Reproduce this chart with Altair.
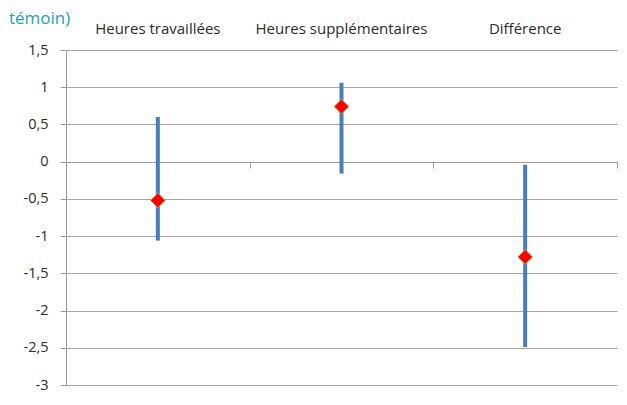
import altair as alt
import pandas as pd

cats = ["Heures travaillées", "Heures supplémentaires", "Différence"]
low = [-1.06, -0.16, -2.49]
high = [0.60, 1.06, -0.04]
point = [-0.52, 0.74, -1.28]
y_ticks = [1.5, 1, 0.5, 0, -0.5, -1, -1.5, -2, -2.5, -3]

df = pd.DataFrame({"cat": cats, "low": low, "high": high, "point": point})

FONT = "Open Sans"
TXT = "#2b2b2b"
GRID = "#a6a6a6"

xscale = alt.Scale(type="band", paddingInner=0, paddingOuter=0, domain=cats)
yscale = alt.Scale(domain=[-3, 1.5], nice=False, zero=False)

label_expr = "replace(toString(datum.value), '.', ',')"

yaxis = alt.Axis(title=None, values=y_ticks, labelExpr=label_expr,
                 grid=True, gridColor=GRID, gridWidth=1, labelOverlap=False,
                 tickCount=10,
                 domainColor="#9a9a9a", tickColor="#9a9a9a", tickSize=6,
                 labelPadding=12, labelFontSize=14.5, labelFont=FONT,
                 labelColor=TXT)

bars = alt.Chart(df).mark_rule(strokeWidth=4, color="#4a7ebb").encode(
    x=alt.X("cat:N", sort=cats, scale=xscale,
            axis=alt.Axis(orient="top", title=None, domain=False, ticks=False,
                          labelAngle=0, labelPadding=14, labelFontSize=15,
                          labelFont=FONT, labelColor=TXT, grid=False)),
    y=alt.Y("low:Q", scale=yscale, axis=yaxis),
    y2="high:Q",
)

pts = alt.Chart(df).mark_point(shape="diamond", filled=True, size=220,
                               fill="#ff0000", stroke="#9bbb59",
                               strokeWidth=1, opacity=1).encode(
    x=alt.X("cat:N", sort=cats, scale=xscale,
            axis=alt.Axis(orient="bottom", title=None, labels=False,
                          tickBand="extent", offset=-223, domainColor="#9a9a9a",
                          tickColor="#9a9a9a", tickSize=6, grid=False)),
    y=alt.Y("point:Q", scale=yscale, axis=yaxis),
)

note = alt.Chart(pd.DataFrame({"t": ["témoin)"]})).mark_text(
    align="left", baseline="alphabetic", font="Open Sans", fontSize=17,
    color="#1ba1b6").encode(
    x=alt.value(-57), y=alt.value(-26), text="t:N")

chart = alt.layer(bars, pts, note).resolve_axis(x="independent").properties(
    width=551, height=335,
    autosize=alt.AutoSizeParams(type="none"),
    padding={"left": 58, "top": 42, "right": 2, "bottom": 12},
).configure_view(stroke=None)

chart.save("out.html", embed_options={"renderer": "svg", "actions": False})
